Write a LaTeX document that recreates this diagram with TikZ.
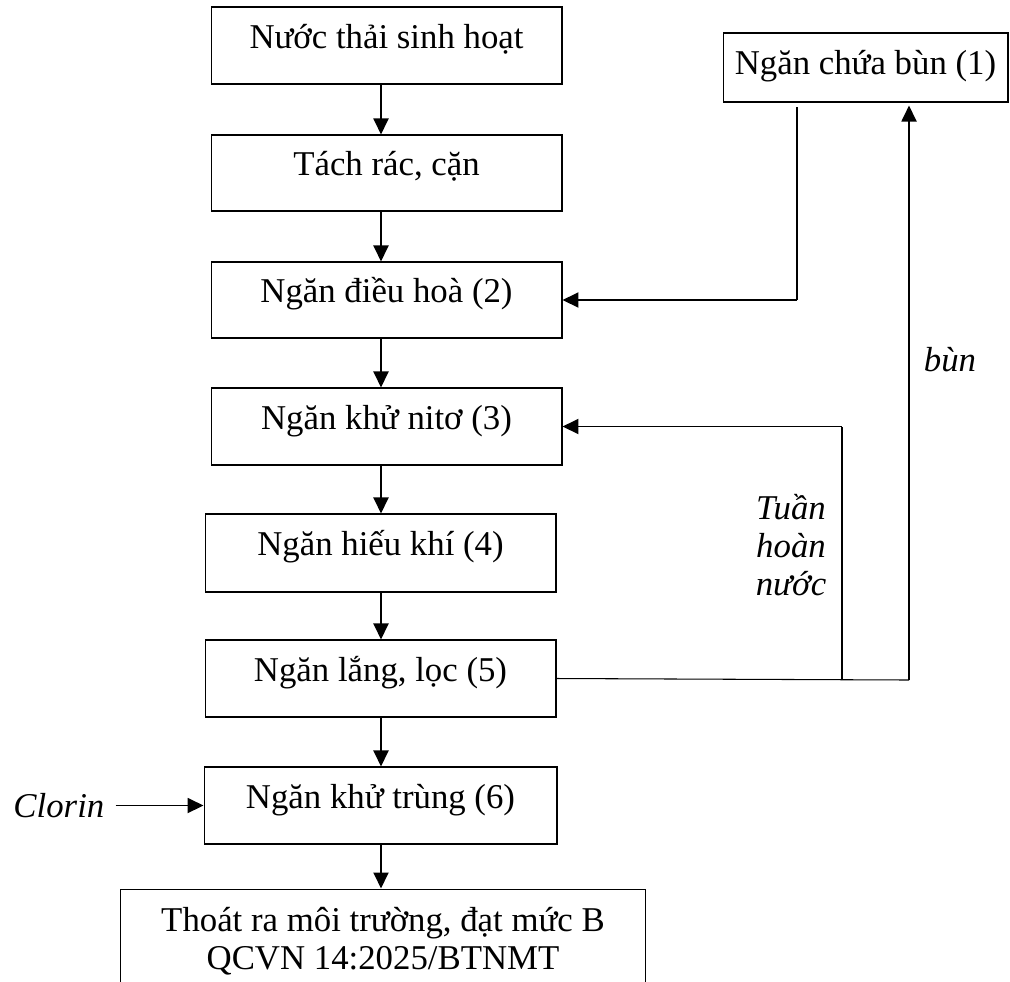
\documentclass[tikz,border=0pt]{standalone}
\usepackage{fontspec}
\setmainfont{Liberation Serif}
\usetikzlibrary{positioning,arrows.meta}

\begin{document}
\begin{tikzpicture}[x=0.02cm,y=-0.02cm,
		font=\fontsize{19.8pt}{21.6pt}\selectfont,
		box/.style={draw=black,line width=0.6pt,minimum width=7.02cm,minimum height=1.54cm,text height=13pt,text depth=9.6pt,inner sep=0pt},
		arr/.style={-{Triangle[length=0.32cm,width=0.3cm]},line width=1.1pt},
		link/.style={line width=0.6pt},
		lbl/.style={font=\fontsize{19.8pt}{21.6pt}\selectfont\itshape,align=center}]
		\useasboundingbox (0,0) rectangle (1010,981);
		
		\node[box] (nuoc) at (386.5,45.5) {Nước thải sinh hoạt};
		\node[box,minimum height=1.52cm] (tach) at (386.5,173) {Tách rác, cặn};
		\node[box,minimum height=1.52cm] (dieuhoa) at (386.5,300) {Ngăn điều hoà (2)};
		\node[box] (nito) at (386.5,426.5) {Ngăn khử nitơ (3)};
		\node[box,minimum height=1.56cm] (hieukhi) at (380.5,553) {Ngăn hiếu khí (4)};
		\node[box] (lang) at (380.5,678.5) {Ngăn lắng, lọc (5)};
		\node[box,minimum width=7.06cm] (khutrung) at (380.5,805.5) {Ngăn khử trùng (6)};
		\node[draw=black,line width=0.6pt,minimum width=10.52cm,minimum height=2.08cm,align=center] (thoat) at (383,941) {Thoát ra môi trường, đạt mức B\\QCVN 14:2025/BTNMT};
		\node[box,minimum width=5.7cm,minimum height=1.38cm,text height=14pt,text depth=6.6pt] (bun) at (865.5,67.5) {Ngăn chứa bùn (1)};
		
		\node[lbl,left=1.86cm of khutrung] (clorin) {Clorin};
		\node[lbl] (lblbun) at (950,360) {bùn};
		\node[lbl] (tuanhoan) at (791,545) {Tuần\\hoàn\\nước};
		
		\coordinate (col) at (381,0);
		\coordinate (bunout) at (797,107);
		\coordinate (split) at (842,680);
		\coordinate (turn) at (909,680);
		
		% main line
		\foreach \a/\b in {nuoc/tach,tach/dieuhoa,dieuhoa/nito,nito/hieukhi,hieukhi/lang,lang/khutrung,khutrung/thoat}
			\draw[arr] (col |- \a.south) -- (col |- \b.north);
		\draw[arr,shorten <=0.1cm] (clorin.east) -- (khutrung.west);
		
		% return lines
		\draw[link] (bunout) -- (bunout |- dieuhoa.east);
		\draw[arr] (bunout |- dieuhoa.east) -- (dieuhoa.east);
		\draw[link] (lang.east) -- (turn);
		\draw[link] (split) -- (split |- nito.east);
		\draw[arr] (split |- nito.east) -- (nito.east);
		\draw[arr,shorten >=0.06cm] (turn) -- (turn |- bun.south);
	\end{tikzpicture}
\end{document}
